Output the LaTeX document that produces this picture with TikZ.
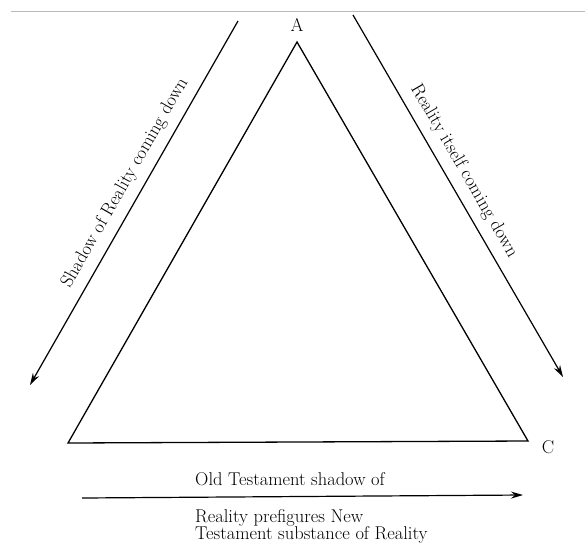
\documentclass[tikz,border=0pt]{standalone}
\usepackage{fontspec}
\usepackage{tikz}
\usetikzlibrary{arrows.meta}
\usetikzlibrary{positioning}
\tikzstyle{arrow} = [line width=1.2pt,-{Stealth[length=12pt,width=7pt,inset=4pt]}]
\tikzstyle{side} = [line width=1.3pt]
\tikzstyle{lbl} = [font=\fontsize{18.5}{17}\selectfont, inner sep=0pt]

\begin{document}
\begin{tikzpicture}[x=1pt,y=-1pt]
\useasboundingbox (0,0) rectangle (585,546);
\draw[gray!55] (11,11) -- (585,11);
% triangle corners
\coordinate (a) at (297,42);
\coordinate (b) at (68,443);
\coordinate (c) at (528,441);
\node[lbl] (A) at (297,25) {A};
\node[lbl] (C) at (548,447) {C};
\draw[side] (a) -- (b) -- (c) -- cycle;
% arrows coming down
\coordinate (l1) at (238,21);
\coordinate (l2) at (30,385);
\coordinate (r1) at (353,15);
\coordinate (r2) at (563,377);
\draw[arrow] (l1) -- (l2);
\draw[arrow] (r1) -- (r2);
\node[lbl, rotate=60.3] (shadow) at (125,183) {Shadow of Reality coming down};
\node[lbl, rotate=-59.9] (itself) at (464,171) {Reality itself coming down};
% bottom arrow
\coordinate (t1) at (82,498);
\coordinate (t2) at (523,495);
\draw[arrow] (t1) -- (t2);
\node[lbl, anchor=base west] (old) at (195,485) {Old Testament shadow of};
\node[lbl, anchor=base west] (new1) at (195,522) {Reality prefigures New};
\node[lbl, anchor=base west] (new2) at (195,539) {Testament substance of Reality};
\end{tikzpicture}
\end{document}
